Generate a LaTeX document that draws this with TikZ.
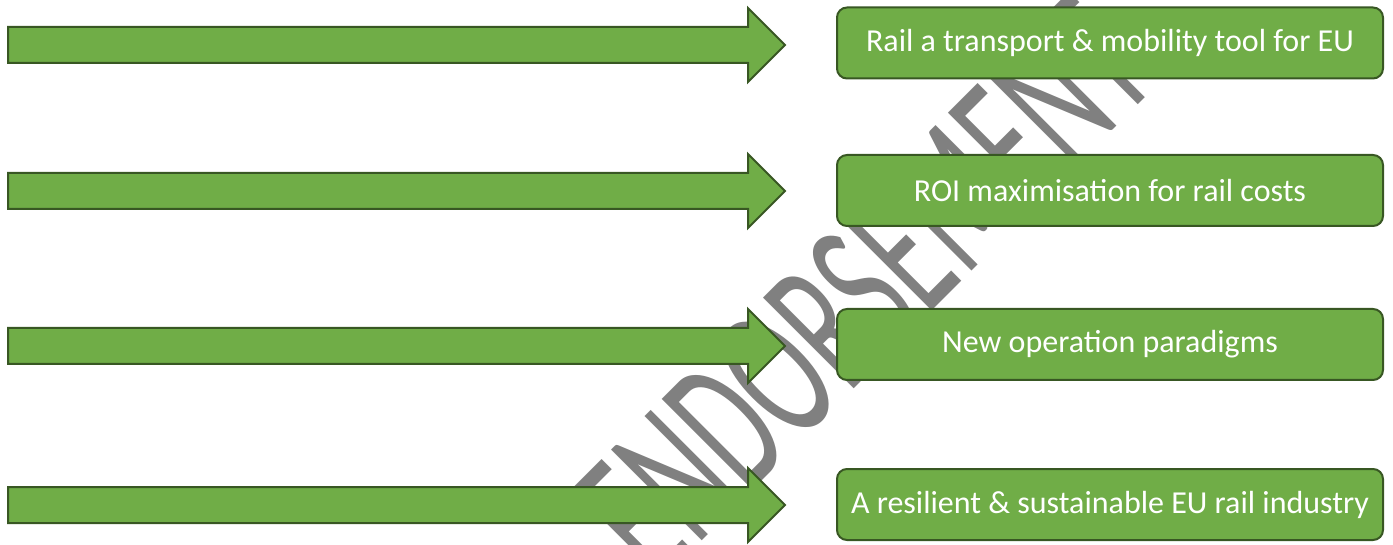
\documentclass[tikz,border=0pt]{standalone}
\usepackage{fontspec}
\setmainfont{Carlito}
\definecolor{leaf}{HTML}{70AD47}
\definecolor{leafdark}{HTML}{385723}
\definecolor{stampgray}{HTML}{808080}

\begin{document}
\begin{tikzpicture}[x=1pt,y=1pt,
  blockarrow/.style={fill=leaf,draw=leafdark,line width=2pt,line join=miter},
  goalbox/.style={rectangle,rounded corners=10pt,fill=leaf,draw=leafdark,line width=2pt,
    minimum width=546pt,minimum height=71pt,inner sep=0pt,text=white,
    font=\fontsize{32}{38}\selectfont},
  stamptext/.style={text=stampgray,inner sep=0pt,font=\fontsize{200}{200}\selectfont,rotate=45}]
\useasboundingbox (0,0) rectangle (1393,-545);

% diagonal stamp, condensed, behind everything
\node[stamptext] (stamp) at (864,-288) {\scalebox{0.56}[1]{ENDORSEMENT}};

% block arrows
\foreach \c in {45,191,346,505}{
  \draw[blockarrow] (8,-\c+18) -- (748,-\c+18) -- (748,-\c+37) -- (785,-\c)
    -- (748,-\c-37) -- (748,-\c-18) -- (8,-\c-18) -- cycle;
}

% goal boxes
\node[goalbox] (g1) at (1110,-43)    {Rail a transport \& mobility tool for EU};
\node[goalbox] (g2) at (1110,-190.5) {ROI maximisation for rail costs};
\node[goalbox] (g3) at (1110,-344.5) {New operation paradigms};
\node[goalbox] (g4) at (1110,-504.5) {A resilient \& sustainable EU rail industry};
\end{tikzpicture}
\end{document}
